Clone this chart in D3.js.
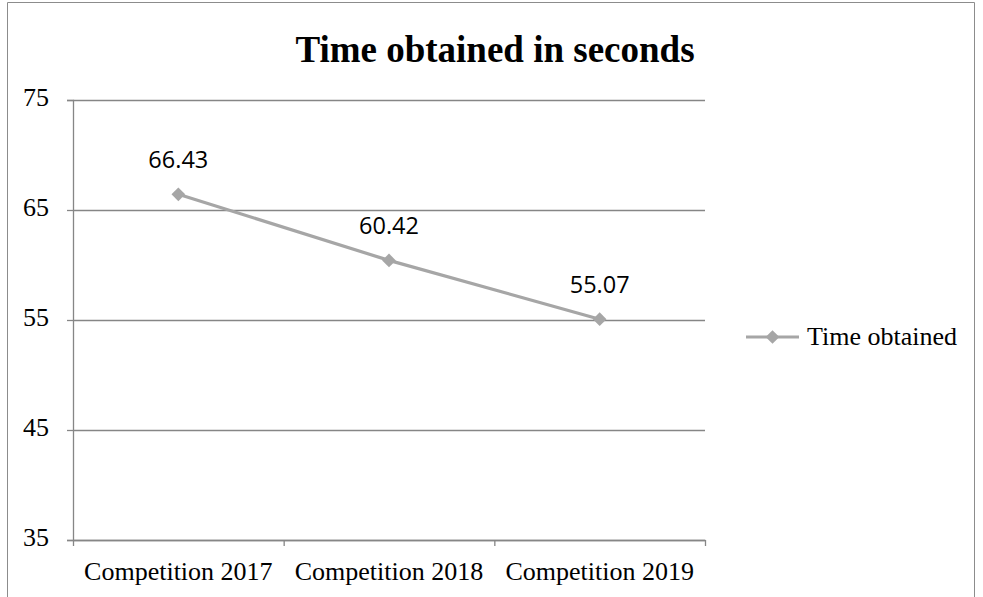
<!DOCTYPE html>
<html>
<head>
<meta charset="utf-8">
<script src="https://cdn.jsdelivr.net/npm/d3@7"></script>
<style>
  body { margin: 0; background: #fff; }
  svg { display: block; }
</style>
</head>
<body>
<svg id="canvas" width="983" height="597"></svg>
<script>
// chart data
var categories = ['Competition 2017', 'Competition 2018', 'Competition 2019'];
var timeValues = [66.43, 60.42, 55.07];
var yTicks = [35, 45, 55, 65, 75];
var seriesName = 'Time obtained';
var chartTitle = 'Time obtained in seconds';

var svg = d3.select('#canvas');
var margin = { left: 73, top: 100, right: 278, bottom: 57 };
var innerWidth = 983 - margin.left - margin.right;
var innerHeight = 597 - margin.top - margin.bottom;

var lineColor = '#a6a6a6';
var gridColor = '#868686';
var serif = 'Liberation Serif, Times New Roman, serif';
var sans = 'Open Sans, Noto Sans, sans-serif';

// outer frame (bottom edge runs off the page, as in the original)
svg.append('path')
  .attr('d', 'M7.5,597 V2.5 H974.5 V597')
  .attr('fill', 'none').attr('stroke', '#8c8c8c').attr('stroke-width', 1);

svg.append('text')
  .attr('x', 495).attr('y', 62)
  .attr('text-anchor', 'middle')
  .attr('font-family', serif).attr('font-size', 37).attr('font-weight', 'bold')
  .text(chartTitle);

var x = d3.scaleBand().domain(categories).range([0, innerWidth]);
var y = d3.scaleLinear().domain([35, 75]).range([innerHeight, 0]);

var g = svg.append('g')
  .attr('transform', 'translate(' + margin.left + ',' + margin.top + ')');

// horizontal grid
var grid = g.append('g')
  .call(d3.axisLeft(y).tickValues(yTicks).tickSize(-innerWidth).tickFormat(''));
grid.select('.domain').remove();
grid.selectAll('text').remove();
grid.selectAll('line').attr('stroke', gridColor).attr('stroke-width', 1.3);

// y axis
var yAxis = g.append('g')
  .call(d3.axisLeft(y).tickValues(yTicks).tickSizeOuter(0).tickSize(6).tickPadding(18))
  .attr('font-family', serif).attr('font-size', 26);
yAxis.select('.domain').attr('stroke', gridColor).attr('stroke-width', 1.3);
yAxis.selectAll('line').attr('stroke', gridColor).attr('stroke-width', 1.3);
yAxis.selectAll('text')
  .attr('fill', '#000')
  .attr('dy', '0.22em');

// x axis, ticks at band edges
var xEdges = d3.scaleLinear().domain([0, categories.length]).range([0, innerWidth]);
var xAxis = g.append('g')
  .attr('transform', 'translate(0,' + innerHeight + ')')
  .call(d3.axisBottom(xEdges).ticks(categories.length).tickSize(6).tickSizeOuter(0).tickFormat(''));
xAxis.selectAll('text').remove();
xAxis.select('.domain').attr('stroke', gridColor).attr('stroke-width', 1.3);
xAxis.selectAll('line').attr('stroke', gridColor).attr('stroke-width', 1.3);

g.append('g').selectAll('text')
  .data(categories)
  .enter().append('text')
  .attr('x', function (d) { return x(d) + x.bandwidth() / 2; })
  .attr('y', innerHeight + 40)
  .attr('text-anchor', 'middle')
  .attr('font-family', serif).attr('font-size', 26)
  .text(function (d) { return d; });

// series line
var line = d3.line()
  .x(function (d, i) { return x(categories[i]) + x.bandwidth() / 2; })
  .y(function (d) { return y(d); });

g.append('path')
  .attr('d', line(timeValues))
  .attr('fill', 'none')
  .attr('stroke', lineColor)
  .attr('stroke-width', 3.2);

var diamond = d3.symbol().type(d3.symbolDiamond2).size(120);
g.selectAll('path.marker')
  .data(timeValues)
  .enter().append('path')
  .attr('class', 'marker')
  .attr('d', diamond)
  .attr('transform', function (d, i) {
    return 'translate(' + (x(categories[i]) + x.bandwidth() / 2) + ',' + y(d) + ')';
  })
  .attr('fill', lineColor);

// data labels
g.selectAll('text.lbl')
  .data(timeValues)
  .enter().append('text')
  .attr('class', 'lbl')
  .attr('x', function (d, i) { return x(categories[i]) + x.bandwidth() / 2; })
  .attr('y', function (d) { return y(d) - 26; })
  .attr('text-anchor', 'middle')
  .attr('font-family', sans).attr('font-size', 23.5)
  .text(function (d) { return d.toFixed(2); });

// legend
var lg = svg.append('g').attr('transform', 'translate(746,337)');
lg.append('line')
  .attr('x1', 0).attr('x2', 53).attr('y1', 0).attr('y2', 0)
  .attr('stroke', lineColor).attr('stroke-width', 3.2);
lg.append('path')
  .attr('d', diamond)
  .attr('transform', 'translate(26.5,0)')
  .attr('fill', lineColor);
lg.append('text')
  .attr('x', 61).attr('y', 8)
  .attr('font-family', serif).attr('font-size', 26)
  .text(seriesName);
</script>
</body>
</html>
